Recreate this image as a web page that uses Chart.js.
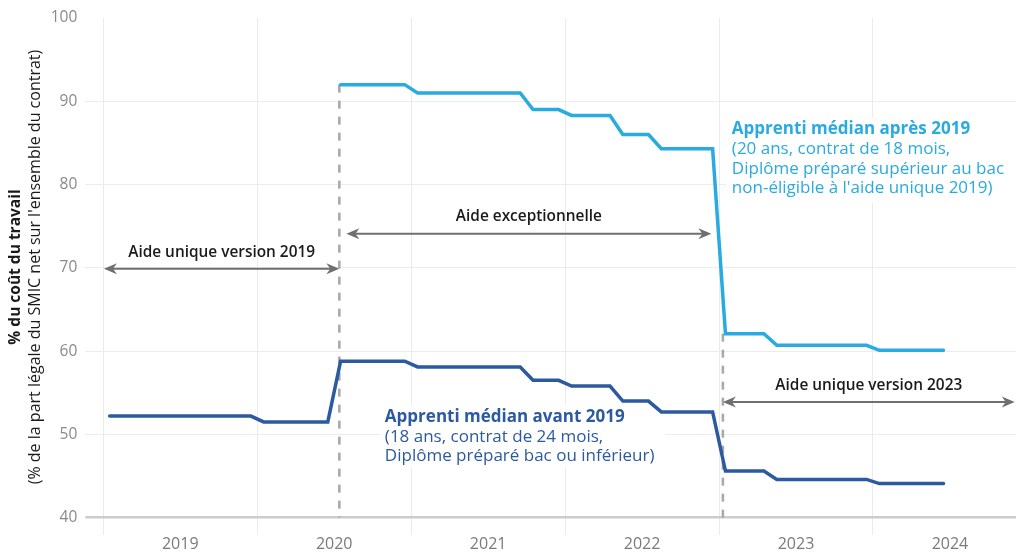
<!DOCTYPE html>
<html lang="fr">
<head>
<meta charset="utf-8">
<script src="https://cdn.jsdelivr.net/npm/chart.js@4"></script>
<style>
  html, body { margin: 0; padding: 0; background: #fff; }
  #wrap { width: 1016px; height: 553px; }
</style>
</head>
<body>
<div id="wrap"><canvas id="coutChart"></canvas></div>
<script>
// Années affichées sous l'axe (une graduation au milieu de chaque année)
const annees = ['2019', '2020', '2021', '2022', '2023', '2024'];

// Valeurs mensuelles, de janvier 2019 à juin 2024 (66 mois)
const apprentiAvant2019 = [
    52.2, 52.2, 52.2, 52.2, 52.2, 52.2, 52.2, 52.2, 52.2, 52.2, 52.2, 52.2,
    51.5, 51.5, 51.5, 51.5, 51.5, 51.5, 58.8, 58.8, 58.8, 58.8, 58.8, 58.8,
    58.1, 58.1, 58.1, 58.1, 58.1, 58.1, 58.1, 58.1, 58.1, 56.5, 56.5, 56.5,
    55.8, 55.8, 55.8, 55.8, 54.0, 54.0, 54.0, 52.7, 52.7, 52.7, 52.7, 52.7,
    45.6, 45.6, 45.6, 45.6, 44.6, 44.6, 44.6, 44.6, 44.6, 44.6, 44.6, 44.6,
    44.1, 44.1, 44.1, 44.1, 44.1, 44.1
];
const apprentiApres2019 = [
    null, null, null, null, null, null, null, null, null, null, null, null,
    null, null, null, null, null, null, 92.0, 92.0, 92.0, 92.0, 92.0, 92.0,
    91.0, 91.0, 91.0, 91.0, 91.0, 91.0, 91.0, 91.0, 91.0, 89.0, 89.0, 89.0,
    88.3, 88.3, 88.3, 88.3, 86.0, 86.0, 86.0, 84.3, 84.3, 84.3, 84.3, 84.3,
    62.1, 62.1, 62.1, 62.1, 60.7, 60.7, 60.7, 60.7, 60.7, 60.7, 60.7, 60.7,
    60.1, 60.1, 60.1, 60.1, 60.1, 60.1
];

// Périodes des dispositifs (en mois depuis janvier 2019)
const periodes = [
    { texte: 'Aide unique version 2019', debut: 0.05, fin: 18.4, niveau: 69.9, niveauTexte: 71.8 },
    { texte: 'Aide exceptionnelle', debut: 18.95, fin: 47.4, niveau: 74.1, niveauTexte: 76.1 },
    { texte: 'Aide unique version 2023', debut: 48.3, fin: 71.05, niveau: 53.9, niveauTexte: 55.9 }
];

const bleuClair = '#29abe2';
const bleuFonce = '#2c5aa0';
const police = '"Open Sans", "Noto Sans", sans-serif';

// Textes des séries : [première ligne en gras, puis détails]
const texteApres = ['Apprenti médian après 2019', '(20 ans, contrat de 18 mois,',
                    'Diplôme préparé supérieur au bac', "non-éligible à l'aide unique 2019)"];
const texteAvant = ['Apprenti médian avant 2019', '(18 ans, contrat de 24 mois,',
                    'Diplôme préparé bac ou inférieur)'];

function versPoints(valeurs) {
    // chaque valeur est placée au milieu de son mois
    return valeurs.map((v, i) => ({ x: i + 0.5, y: v }));
}

function fleche(ctx, x1, x2, y) {
    ctx.save();
    ctx.strokeStyle = '#6f6f6f';
    ctx.fillStyle = '#6f6f6f';
    ctx.lineWidth = 2;
    ctx.beginPath();
    ctx.moveTo(x1 + 6, y);
    ctx.lineTo(x2 - 6, y);
    ctx.stroke();
    [[x1, 1], [x2, -1]].forEach(([x, d]) => {
        ctx.beginPath();
        ctx.moveTo(x, y);
        ctx.lineTo(x + d * 13, y - 5.5);
        ctx.lineTo(x + d * 9, y);
        ctx.lineTo(x + d * 13, y + 5.5);
        ctx.closePath();
        ctx.fill();
    });
    ctx.restore();
}

function bloc(ctx, lignes, x, y, couleur) {
    ctx.save();
    ctx.textAlign = 'left';
    ctx.textBaseline = 'middle';
    ctx.fillStyle = couleur;
    lignes.forEach((l, i) => {
        ctx.font = (i === 0 ? '700 ' : '400 ') + '17px ' + police;
        ctx.fillText(l, x, y + i * 19.6);
    });
    ctx.restore();
}

const annotations = {
    id: 'annotations',
    beforeDatasetsDraw(chart) {
        const ctx = chart.ctx;
        const xs = chart.scales.x, ys = chart.scales.y;
        // fonds blancs sous les textes (masquent la grille)
        ctx.save();
        ctx.fillStyle = '#fff';
        ctx.fillRect(726, 118, 290, 85);
        ctx.fillRect(380, 405, 285, 62);
        ctx.restore();
        // lignes verticales pointillées aux changements de dispositif
        ctx.save();
        ctx.strokeStyle = '#a8a8a8';
        ctx.lineWidth = 2.5;
        ctx.setLineDash([8, 8]);
        [[18.4, 92], [48.3, 62.1]].forEach(([m, v]) => {
            ctx.beginPath();
            ctx.moveTo(xs.getPixelForValue(m), ys.getPixelForValue(v));
            ctx.lineTo(xs.getPixelForValue(m), ys.getPixelForValue(40));
            ctx.stroke();
        });
        ctx.restore();
    },
    afterDatasetsDraw(chart) {
        const ctx = chart.ctx;
        const xs = chart.scales.x, ys = chart.scales.y;

        bloc(ctx, texteApres, xs.getPixelForValue(49.0), ys.getPixelForValue(86.6), bleuClair);
        bloc(ctx, texteAvant, xs.getPixelForValue(21.95), ys.getPixelForValue(52.06), bleuFonce);

        // flèches des périodes
        periodes.forEach(p => {
            const x1 = xs.getPixelForValue(p.debut), x2 = xs.getPixelForValue(p.fin);
            fleche(ctx, x1, x2, ys.getPixelForValue(p.niveau));
            ctx.save();
            ctx.font = '600 15.4px ' + police;
            ctx.fillStyle = '#1a1a1a';
            ctx.textAlign = 'center';
            ctx.textBaseline = 'middle';
            ctx.fillText(p.texte, (x1 + x2) / 2, ys.getPixelForValue(p.niveauTexte));
            ctx.restore();
        });

        // titre de l'axe vertical (deux lignes, la première en gras)
        ctx.save();
        ctx.translate(16, 267);
        ctx.rotate(-Math.PI / 2);
        ctx.textAlign = 'center';
        ctx.textBaseline = 'middle';
        ctx.fillStyle = '#1a1a1a';
        ctx.font = '700 15.5px ' + police;
        ctx.fillText('% du coût du travail', 0, 0);
        ctx.font = '400 16px ' + police;
        ctx.fillText("(% de la part légale du SMIC net sur l'ensemble du contrat)", 0, 19);
        ctx.restore();
    }
};

const couleurGrilleY = c => {
    if (!c.tick) return '#ececec';
    if (c.tick.value === 40) return '#cccccc';
    if (c.tick.value === 100) return 'rgba(0,0,0,0)';
    return '#ececec';
};

const config = {
    type: 'line',
    data: {
        datasets: [{
            label: 'Apprenti médian après 2019',
            data: versPoints(apprentiApres2019),
            borderColor: bleuClair,
            borderWidth: 3.5,
            borderCapStyle: 'round',
            pointRadius: 0,
            tension: 0,
            spanGaps: false
        }, {
            label: 'Apprenti médian avant 2019',
            data: versPoints(apprentiAvant2019),
            borderColor: bleuFonce,
            borderWidth: 3.5,
            borderCapStyle: 'round',
            pointRadius: 0,
            tension: 0
        }]
    },
    options: {
        responsive: true,
        maintainAspectRatio: false,
        animation: false,
        layout: { padding: { top: 18, right: 0, left: 0, bottom: 0 } },
        plugins: { legend: { display: false }, tooltip: { enabled: false } },
        scales: {
            x: {
                type: 'linear',
                min: 0,
                max: 71.15,
                afterBuildTicks: s => {
                    s.ticks = [0, 6, 12, 18, 24, 30, 36, 42, 48, 54, 60, 66].map(v => ({ value: v }));
                },
                afterFit: s => { s.height = 35.3; },
                ticks: {
                    autoSkip: false,
                    maxRotation: 0,
                    padding: 0,
                    color: '#7a7a7a',
                    font: { family: police, size: 16 },
                    callback: v => (v % 12 === 6 ? annees[(v - 6) / 12] : '')
                },
                grid: {
                    color: c => (c.tick && c.tick.value % 12 === 0 ? '#ebebeb' : 'rgba(0,0,0,0)'),
                    tickColor: c => (c.tick && c.tick.value % 12 === 0 ? '#ebebeb' : 'rgba(0,0,0,0)'),
                    tickLength: 17
                },
                border: { display: false }
            },
            y: {
                min: 40,
                max: 100,
                afterFit: s => { s.width = 103.3; },
                ticks: {
                    stepSize: 10,
                    padding: 8,
                    color: '#8a8a8a',
                    font: { family: police, size: 15.5 }
                },
                grid: {
                    color: couleurGrilleY,
                    lineWidth: c => (c.tick && c.tick.value === 40 ? 2.5 : 1),
                    tickColor: couleurGrilleY,
                    tickLength: 18
                },
                border: { display: false }
            }
        }
    },
    plugins: [annotations]
};

const ctx = document.getElementById('coutChart').getContext('2d');
new Chart(ctx, config);
</script>
</body>
</html>
